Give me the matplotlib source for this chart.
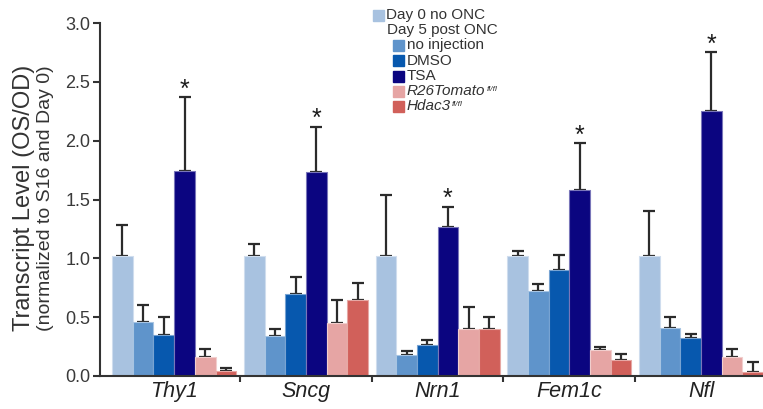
import numpy as np
import matplotlib
matplotlib.use("Agg")
import matplotlib.pyplot as plt
from matplotlib.patches import Rectangle
import matplotlib.colors as mcolors

plt.rcParams["font.family"] = ["Liberation Sans", "DejaVu Sans"]

# Data
genes = ["Thy1", "Sncg", "Nrn1", "Fem1c", "Nfl"]
day0 = [1.02, 1.02, 1.02, 1.02, 1.02]
day0_err = [0.26, 0.10, 0.52, 0.04, 0.38]
no_inj = [0.46, 0.34, 0.18, 0.72, 0.41]
no_inj_err = [0.14, 0.06, 0.035, 0.06, 0.09]
dmso = [0.35, 0.70, 0.26, 0.90, 0.325]
dmso_err = [0.15, 0.14, 0.05, 0.13, 0.035]
tsa = [1.74, 1.73, 1.27, 1.58, 2.25]
tsa_err = [0.63, 0.39, 0.17, 0.40, 0.50]
r26 = [0.16, 0.45, 0.40, 0.22, 0.165]
r26_err = [0.07, 0.20, 0.19, 0.03, 0.065]
hdac3 = [0.045, 0.65, 0.40, 0.14, 0.035]
hdac3_err = [0.025, 0.14, 0.10, 0.05, 0.08]

series = [day0, no_inj, dmso, tsa, r26, hdac3]
errors = [day0_err, no_inj_err, dmso_err, tsa_err, r26_err, hdac3_err]
colors = ["#A8C2E0", "#5F94CB", "#0758AE", "#0B0580", "#E6A5A4", "#D1605A"]
# (label, italic, superscript)
legend_labels = [
    ("Day 0 no ONC", False, None),
    ("Day 5 post ONC", False, None),
    ("no injection", False, None),
    ("DMSO", False, None),
    ("TSA", False, None),
    ("R26Tomato", True, "fl/fl"),
    ("Hdac3", True, "fl/fl"),
]

W, H = 763, 409
fig = plt.figure(figsize=(W / 100, H / 100), dpi=100)
ax = fig.add_axes([100 / W, 33 / H, 663 / W, 353 / H])

x = np.arange(len(genes))
bw = 0.157
for i, (vals, errs, c) in enumerate(zip(series, errors, colors)):
    edge = mcolors.to_rgb(c)
    edge = tuple(0.55 * e + 0.45 for e in edge)
    pos = x + (i - 2.5) * bw
    ax.bar(pos, vals, width=bw, color=c, edgecolor=edge, linewidth=0.8, zorder=2)
    ax.errorbar(pos, vals, yerr=[np.zeros(len(vals)), errs], fmt="none",
                ecolor="#2b2b2b", elinewidth=1.6, capsize=4, capthick=1.6, zorder=1)

# significance stars over TSA
tsa_pos = x + 0.5 * bw
for p, v, e in zip(tsa_pos, tsa, tsa_err):
    ax.text(p, v + e - 0.04, "*", ha="center", va="bottom", fontsize=18,
            color="#1a1a1a")

ax.set_ylim(0, 3.0)
ax.set_xlim(-0.563, 4.47)
ax.set_yticks(np.arange(0, 3.01, 0.5))
ax.set_yticklabels([f"{t:.1f}" for t in np.arange(0, 3.01, 0.5)])
ax.set_xticks(x[:-1] + 0.5, minor=False)
ax.set_xticklabels([])
ax.tick_params(axis="x", direction="out", length=4, width=1.5, color="#333333")
ax.tick_params(axis="y", direction="out", length=5, width=1.5, color="#333333",
               labelsize=13, labelcolor="#3a3a3a", pad=2)
for s in ["top", "right"]:
    ax.spines[s].set_visible(False)
for s in ["left", "bottom"]:
    ax.spines[s].set_linewidth(1.5)
    ax.spines[s].set_color("#333333")

for xi, g in zip(x, genes):
    ax.text(xi, -0.13, g, ha="center", va="center", fontsize=15.5,
            style="italic", color="#222222")

fig.text(24 / W, 1 - 198 / H, "Transcript Level (OS/OD)", rotation=90,
         ha="center", va="center", fontsize=17, color="#333333")
fig.text(46 / W, 1 - 198 / H, "(normalized to S16 and Day 0)", rotation=90,
         ha="center", va="center", fontsize=14, color="#333333")

# legend drawn by hand: patch x (None = header row), row centre y in pixels
patch_x = [372.7, None, 393.3, 393.3, 393.3, 393.3, 393.3]
row_y = [15, 30, 45.5, 60.8, 76, 91.3, 106.5]
patch_col = [colors[0], None] + colors[1:]
renderer = fig.canvas.get_renderer()
for px, py, c, (label, ital, sup) in zip(patch_x, row_y, patch_col, legend_labels):
    if px is None:
        tx = 386.7
    else:
        fig.add_artist(Rectangle((px / W, 1 - (py + 5.5) / H), 11 / W, 11 / H,
                                 transform=fig.transFigure, color=c))
        tx = px + 13.5
    t = fig.text(tx / W, 1 - py / H, label, ha="left", va="center", fontsize=11,
                 color="#333333", style="italic" if ital else "normal")
    if sup:
        bb = t.get_window_extent(renderer)
        fig.text((bb.x1 + 1) / W, (bb.y1 - 5) / H, sup, ha="left", va="center",
                 fontsize=6, style="italic", color="#333333")

fig.savefig("out.png", dpi=100)
